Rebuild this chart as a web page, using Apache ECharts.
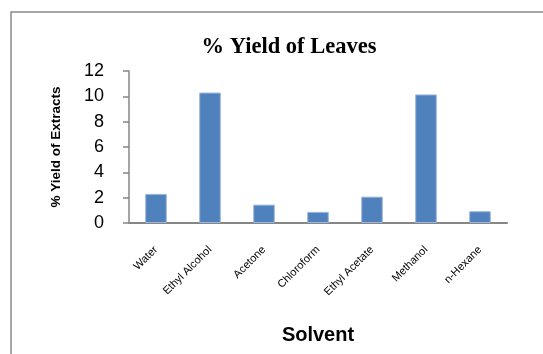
<!DOCTYPE html>
<html>
<head>
<meta charset="utf-8">
<script src="https://cdn.jsdelivr.net/npm/echarts@6/dist/echarts.min.js"></script>
<style>
  html, body { margin: 0; padding: 0; background: #fff; }
  #chart { width: 543px; height: 354px; }
</style>
</head>
<body>
<div id="chart"></div>
<script>
// Percentage yield of leaf extracts by extraction solvent
const solvents = ['Water', 'Ethyl Alcohol', 'Acetone', 'Chloroform', 'Ethyl Acetate', 'Methanol', 'n-Hexane'];
const yieldPercent = [2.3, 10.3, 1.45, 0.88, 2.08, 10.15, 0.93];
const yTicks = [0, 2, 4, 6, 8, 10, 12];

const chart = echarts.init(document.getElementById('chart'), null, { renderer: 'canvas' });

const option = {
  backgroundColor: '#ffffff',
  animation: false,
  title: {
    text: '% Yield of Leaves',
    left: 284,
    top: 31,
    textAlign: 'center',
    textStyle: {
      fontFamily: 'Liberation Serif',
      fontWeight: 'bold',
      fontSize: 22.5,
      color: '#000'
    }
  },
  graphic: [{
    type: 'rect',
    shape: { x: 11, y: 12, width: 700, height: 500 },
    style: { fill: 'none', stroke: '#8a8a8a', lineWidth: 1.5 },
    silent: true,
    z: -1
  }],
  grid: {
    left: 129,
    right: 36,
    top: 71,
    bottom: 131
  },
  xAxis: {
    type: 'category',
    data: solvents,
    name: 'Solvent',
    nameLocation: 'middle',
    nameGap: 102,
    nameTextStyle: {
      fontFamily: 'Liberation Sans',
      fontWeight: 'bold',
      fontSize: 20,
      color: '#000',
      verticalAlign: 'top'
    },
    axisLine: { lineStyle: { color: '#868686', width: 2 } },
    axisTick: { show: false },
    axisLabel: {
      rotate: 45,
      margin: 25,
      interval: 0,
      fontFamily: 'Liberation Sans',
      fontSize: 11,
      color: '#000'
    }
  },
  yAxis: {
    type: 'value',
    min: yTicks[0],
    max: yTicks[yTicks.length - 1],
    interval: 2,
    name: '% Yield of Extracts',
    nameLocation: 'middle',
    nameGap: 66,
    nameTextStyle: {
      fontFamily: 'Liberation Sans',
      fontWeight: 'bold',
      fontSize: 13.5,
      color: '#000'
    },
    axisLine: { show: true, lineStyle: { color: '#868686', width: 1.5 } },
    axisTick: { show: true, length: 6, lineStyle: { color: '#868686', width: 1.5 } },
    splitLine: { show: false },
    axisLabel: {
      margin: 25,
      fontFamily: 'Liberation Sans',
      fontSize: 18,
      color: '#000'
    }
  },
  series: [{
    type: 'bar',
    data: yieldPercent,
    barWidth: '40%',
    itemStyle: {
      color: '#4F81BD',
      borderColor: '#9db8dc',
      borderWidth: 1
    }
  }]
};

chart.setOption(option);
</script>
</body>
</html>
